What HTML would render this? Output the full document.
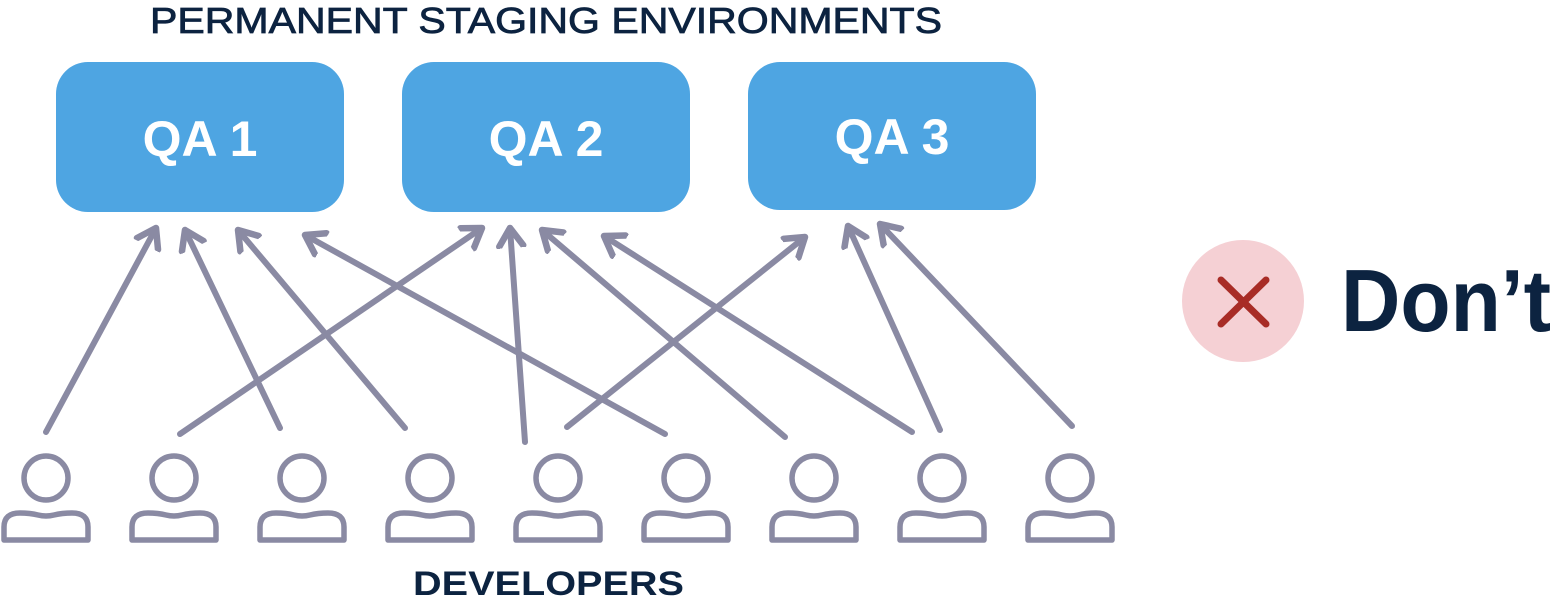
<!DOCTYPE html>
<html><head><style>html,body{margin:0;padding:0;background:#fff;}svg{display:block}</style></head>
<body>
<svg width="1554" height="605" viewBox="0 0 1554 605" xmlns="http://www.w3.org/2000/svg">
<defs>
<marker id="a" markerUnits="userSpaceOnUse" markerWidth="40" markerHeight="40" refX="20" refY="20" orient="auto">
<path d="M2,8 L20,20 L2,32" fill="none" stroke="#8a8aa3" stroke-width="6.5" stroke-linecap="round" stroke-linejoin="round"/>
</marker>
</defs>
<text x="150" y="33" font-family="Liberation Sans, sans-serif" font-size="36" fill="#0c2340" stroke="#0c2340" stroke-width="0.8" textLength="792" lengthAdjust="spacingAndGlyphs">PERMANENT STAGING ENVIRONMENTS</text>
<g fill="#4ea5e2">
<rect x="56" y="62" width="288" height="150" rx="32"/>
<rect x="402" y="62" width="288" height="150" rx="32"/>
<rect x="748" y="62" width="288" height="148" rx="32"/>
</g>
<g font-family="Liberation Sans, sans-serif" font-weight="bold" font-size="50" fill="#fff" text-anchor="middle">
<text x="200" y="156">QA 1</text>
<text x="546" y="156">QA 2</text>
<text x="892" y="154">QA 3</text>
</g>
<g stroke="#8a8aa3" stroke-width="6" stroke-linecap="round" fill="none" marker-end="url(#a)">
<line x1="46" y1="432" x2="156" y2="228"/>
<line x1="180" y1="434" x2="482" y2="228"/>
<line x1="280" y1="428" x2="185" y2="230"/>
<line x1="405" y1="428" x2="238" y2="230"/>
<line x1="525" y1="442" x2="510" y2="228"/>
<line x1="665" y1="434" x2="305" y2="235"/>
<line x1="567" y1="427" x2="805" y2="237"/>
<line x1="785" y1="437" x2="542" y2="230"/>
<line x1="912" y1="432" x2="604" y2="236"/>
<line x1="940" y1="430" x2="848" y2="226"/>
<line x1="1072" y1="426" x2="880" y2="224"/>
</g>
<g id="p" stroke="#8a8aa3" stroke-width="5.5" fill="none" stroke-linejoin="round">
<circle cx="46" cy="478" r="22"/>
<path d="M4,540 L4,527 Q4,513 20,513 Q30,513 38,515 Q46,517 54,515 Q62,513 72,513 Q88,513 88,527 L88,540 Z"/>
</g>
<use href="#p" x="128"/><use href="#p" x="256"/><use href="#p" x="384"/><use href="#p" x="512"/><use href="#p" x="640"/><use href="#p" x="768"/><use href="#p" x="896"/><use href="#p" x="1024"/>
<text x="413" y="595" font-family="Liberation Sans, sans-serif" font-weight="bold" font-size="34" fill="#0c2340" textLength="271" lengthAdjust="spacingAndGlyphs">DEVELOPERS</text>
<circle cx="1243" cy="301" r="61" fill="#f5d0d4"/>
<g stroke="#a82c26" stroke-width="7" stroke-linecap="round">
<line x1="1221" y1="280" x2="1266" y2="324"/><line x1="1266" y1="280" x2="1221" y2="324"/>
</g>
<text x="1341" y="331" font-family="Liberation Sans, sans-serif" font-weight="bold" font-size="88" fill="#0c2340" textLength="210" lengthAdjust="spacingAndGlyphs">Don’t</text>
</svg>
</body></html>
